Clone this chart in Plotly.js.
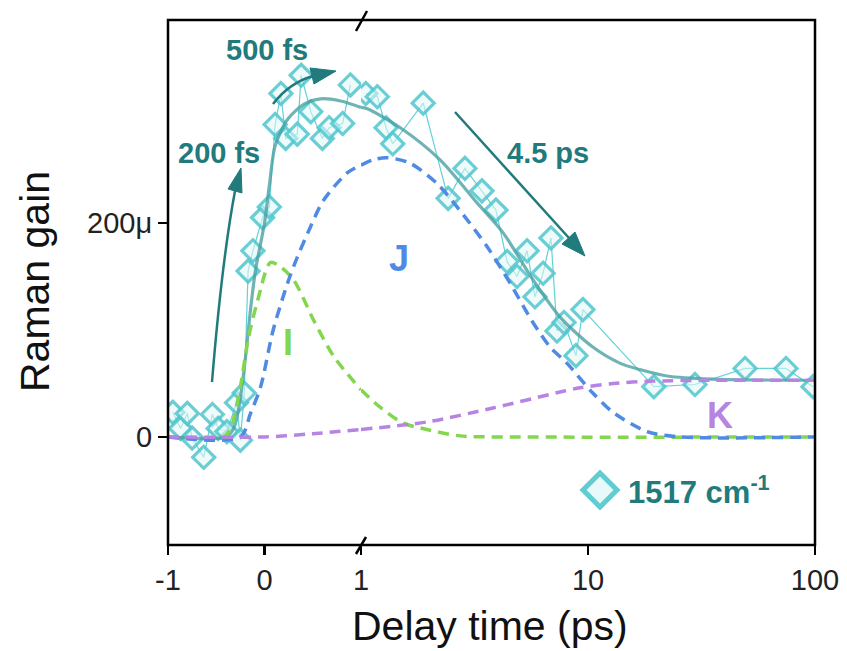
<!DOCTYPE html>
<html>
<head>
<meta charset="utf-8">
<script src="https://cdn.plot.ly/plotly-3.0.1.min.js"></script>
<style>html,body{margin:0;padding:0;background:#fff;}#chart{width:847px;height:651px;}</style>
</head>
<body>
<div id="chart"></div>
<script>
// ---------- data (delay time in ps, Raman gain in micro units) ----------
const dataT = [-0.95, -0.87, -0.80, -0.75, -0.63, -0.54, -0.48, -0.39, -0.29, -0.25, -0.21, -0.17, -0.12, -0.02, 0.05, 0.11, 0.17, 0.22, 0.34, 0.38, 0.48, 0.60, 0.67, 0.81, 0.89,
               1.05, 1.18, 1.29, 1.38, 1.88, 2.42, 2.87, 3.41, 3.93, 4.40, 4.87, 5.39, 5.84, 6.34, 6.87, 7.30, 7.84, 8.85, 9.50, 19.5, 29.6, 49.2, 74.5, 98];
const dataY = [23, 8, 22, -1, -19, 21, 8, 5, 32, -3, 41, 155, 174, 205, 215, 292, 321, 279, 283, 338, 304, 279, 289, 293, 329,
               321, 318, 289, 274, 312, 223, 251, 230, 212, 164, 150, 174, 131, 153, 186, 99, 107, 76, 119, 47, 49, 64, 64, 47];

const fitT = [-1, -0.4, -0.32, -0.27, -0.2, -0.145, -0.093, 0.0, 0.05, 0.11, 0.24, 0.41, 0.58, 0.79, 1, 1.06, 1.49, 2.23, 3.24, 4.22, 5.72, 7.53, 10.5, 13.8, 16.9, 22.3, 35.5, 100];
const fitY = [0, 0, 8, 25, 72, 119, 156, 200, 235, 272, 297, 311, 316, 314, 308, 307, 289, 259, 219, 191, 147, 112, 84, 69, 63, 57, 54, 53];

const compIT = [-1, -0.42, -0.35, -0.25, -0.17, -0.07, 0.06, 0.15, 0.3, 0.51, 0.72, 1, 1.21, 1.53, 1.95, 2.73, 5, 100];
const compIY = [0, 0, 8, 47, 91, 128, 163, 160, 147, 109, 75, 44, 28, 13, 7, 1, 0, 0];

const compJT = [-1, -0.25, -0.145, -0.04, 0.09, 0.24, 0.34, 0.45, 0.61, 0.86, 1, 1.13, 1.30, 1.64, 2.16, 2.65, 3.59, 4.53, 5.72, 6.81, 8.07, 10.5, 12.9, 18.2, 25.4, 100];
const compJY = [0, 0, 22, 47, 100, 144, 168, 191, 221, 247, 254, 259, 261, 256, 237, 215, 178, 144, 107, 84, 69, 41, 23, 5, 0, 0];

const compKT = [-1, 0, 0.5, 1, 1.95, 3.81, 7.53, 9.23, 12.9, 18.2, 35.5, 100];
const compKY = [0, 0, 3, 7, 14, 27, 42, 46, 50, 52, 53, 53];

const xTickLin = [-1, 0, 1];
const xTickLog = [10, 100];
const yTicks = [0, 200];
const yTickText = ['0', '200\u03bc'];

// ---------- helpers ----------
const W = 847, H = 651, L = 168, R = 815, T = 20, B = 545;
const X = px => (px - L) / (R - L);
const Y = py => (B - py) / (B - T);
const BREAK = X(361);
function pth(pts, close) {
  return pts.map((p, i) => (i ? 'L' : 'M') + X(p[0]).toFixed(5) + ',' + Y(p[1]).toFixed(5)).join(' ') + (close ? ' Z' : '');
}
function split(t, y) {
  const a = {x: [], y: []}, b = {x: [], y: []};
  t.forEach((v, i) => { if (v <= 1) { a.x.push(v); a.y.push(y[i]); } if (v >= 1) { b.x.push(v); b.y.push(y[i]); } });
  return [a, b];
}
function pair(t, y, style) {
  const [a, b] = split(t, y);
  return [Object.assign({x: a.x, y: a.y, xaxis: 'x', yaxis: 'y'}, style),
          Object.assign({x: b.x, y: b.y, xaxis: 'x2', yaxis: 'y'}, style)];
}

const dataStyle = {type: 'scatter', mode: 'lines+markers', showlegend: false, hoverinfo: 'skip',
  line: {color: 'rgba(80,205,210,0.9)', width: 1.2},
  marker: {symbol: 'diamond', size: 17, color: 'rgba(225,248,248,0.55)', line: {color: 'rgba(80,198,205,0.85)', width: 3.2}}};
const fitStyle = {type: 'scatter', mode: 'lines', showlegend: false, hoverinfo: 'skip',
  line: {color: 'rgba(75,160,162,0.8)', width: 3.2, shape: 'spline', smoothing: 0.8}};
const dashStyle = c => ({type: 'scatter', mode: 'lines', showlegend: false, hoverinfo: 'skip',
  line: {color: c, width: 3.5, dash: '11px,7px', shape: 'spline', smoothing: 0.8}});

const traces = [].concat(
  pair(dataT, dataY, dataStyle),
  pair(fitT, fitY, fitStyle),
  pair(compIT, compIY, dashStyle('#84d64e')),
  pair(compJT, compJY, dashStyle('#4f8ae3')),
  pair(compKT, compKY, dashStyle('#b784e2'))
);

const teal = '#217a7c';
const tickFont = {family: 'Liberation Sans, Arial, sans-serif', size: 29, color: '#222'};
const axBase = {showgrid: false, zeroline: false, showline: false, ticks: 'outside', ticklen: 9, tickwidth: 2.5, tickcolor: '#000', tickfont: tickFont, fixedrange: true};

const shapes = [
  {type: 'rect', xref: 'paper', yref: 'paper', x0: 0, x1: 1, y0: 0, y1: 1, line: {color: '#000', width: 2.5}},
  // axis break marks
  {type: 'path', xref: 'paper', yref: 'paper', path: pth([[356, T + 11], [367, T - 9]]), line: {color: '#000', width: 2.5}},
  {type: 'path', xref: 'paper', yref: 'paper', path: pth([[356, B + 9], [366, B - 8]]), line: {color: '#000', width: 2.5}},
  // arrow 200 fs
  {type: 'path', xref: 'paper', yref: 'paper', path: 'M' + X(212) + ',' + Y(382) + ' Q' + X(222) + ',' + Y(260) + ' ' + X(235) + ',' + Y(191), line: {color: teal, width: 2.5}},
  {type: 'path', xref: 'paper', yref: 'paper', path: pth([[241, 168], [228, 189], [242, 193]], true), fillcolor: teal, line: {color: teal, width: 1}},
  // arrow 500 fs
  {type: 'path', xref: 'paper', yref: 'paper', path: 'M' + X(273) + ',' + Y(104) + ' Q' + X(289) + ',' + Y(83) + ' ' + X(313) + ',' + Y(76), line: {color: teal, width: 2.5}},
  {type: 'path', xref: 'paper', yref: 'paper', path: pth([[336, 71], [310, 68], [314, 84]], true), fillcolor: teal, line: {color: teal, width: 1}},
  // arrow 4.5 ps
  {type: 'path', xref: 'paper', yref: 'paper', path: pth([[455, 112], [569, 238]]), line: {color: teal, width: 2.5}},
  {type: 'path', xref: 'paper', yref: 'paper', path: pth([[585, 256], [575, 232], [562, 244]], true), fillcolor: teal, line: {color: teal, width: 1}},
  // legend symbol
  {type: 'path', xref: 'paper', yref: 'paper', path: pth([[583, 490], [600, 473], [617, 490], [600, 507]], true), fillcolor: 'rgba(215,245,245,0.6)', line: {color: 'rgba(80,198,205,0.9)', width: 5}}
];

const ann = (text, px, py, color, size, extra) => Object.assign({text, xref: 'paper', yref: 'paper', x: X(px), y: Y(py), showarrow: false,
  xanchor: 'center', yanchor: 'middle',
  font: {family: 'Liberation Sans, Arial, sans-serif', size, color}}, extra || {});

const annotations = [
  ann('<b>500 fs</b>', 267, 50, teal, 29),
  ann('<b>200 fs</b>', 219, 153, teal, 29),
  ann('<b>4.5 ps</b>', 548, 153, teal, 29),
  ann('<b>J</b>', 399, 258, '#4f8ae3', 36),
  ann('<b>I</b>', 288, 342, '#84d64e', 36),
  ann('<b>K</b>', 720, 415, '#b784e2', 36),
  ann('<b>1517 cm<sup>-1</sup></b>', 626, 490, teal, 31, {xanchor: 'left'}),
  ann('Delay time (ps)', 490, 626, '#111', 41),
  ann('Raman gain', 35, 282, '#111', 41, {textangle: -90})
];

const layout = {
  width: W, height: H,
  margin: {l: L, r: W - R, t: T, b: H - B},
  paper_bgcolor: '#fff', plot_bgcolor: 'rgba(0,0,0,0)',
  showlegend: false,
  xaxis: Object.assign({}, axBase, {domain: [0, BREAK], range: [-1, 1], tickvals: xTickLin, ticktext: xTickLin.map(String), anchor: 'y'}),
  xaxis2: Object.assign({}, axBase, {domain: [BREAK, 1], type: 'log', range: [0, 2], tickvals: xTickLog, ticktext: xTickLog.map(String), anchor: 'y'}),
  yaxis: Object.assign({}, axBase, {range: [-101, 389.7], tickvals: yTicks, ticktext: yTickText, anchor: 'x'}),
  shapes, annotations
};

Plotly.newPlot('chart', traces, layout, {displayModeBar: false, staticPlot: true});
</script>
</body>
</html>
